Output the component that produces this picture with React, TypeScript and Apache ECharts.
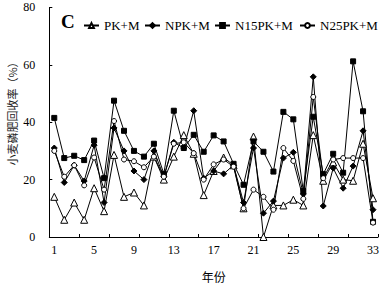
import React, { useEffect, useRef } from "react";
import * as echarts from "echarts";

const years = Array.from({ length: 33 }, (_, i) => String(i + 1));

const seriesNames = ["PK+M", "NPK+M", "N15PK+M", "N25PK+M"];

const pkM = [14, 6, 12, 6, 17, 9, 28.6, 14, 15.5, 11, 28, 20, 28, 35.5, 29, 14.6, 23, 27.7, 25, 10, 35, 0, 11, 11, 13, 11, 35.5, 19.6, 26, 20, 19.6, 32.5, 13.5];
const npkM = [31, 19, 25, 19.5, 32, 12, 38, 30, 23, 20, 30, 21, 33, 31, 44, 20.5, 23, 22, 25, 12, 31, 8.3, 12.5, 27.5, 29.5, 15, 55.8, 10.8, 24, 17, 24.7, 37, 9.5];
const n15pkM = [41.5, 27.5, 28.3, 26.8, 33.6, 20.5, 47.5, 37, 30, 28, 32.5, 22, 44, 31, 35.6, 29.7, 35.4, 33.3, 25.5, 18.2, 33.3, 29.7, 22.8, 43.6, 41, 16, 41.9, 21.9, 29, 22.4, 61.2, 43.8, 5.3];
const n25pkM = [30, 21, 25, 18, 27.7, 16.5, 40.4, 27, 26.4, 24.3, 28, 21, 32.5, 33, 29.2, 20, 25.3, 27, 24.5, 10, 16.5, 14, 9.5, 31, 26.5, 13.3, 48.8, 20.5, 27, 27.5, 27.5, 27.5, 5];

const yTicks = { min: 0, max: 80, interval: 20 };

const FONT = '"Liberation Serif", "Times New Roman", serif';

export default function App() {
  const ref = useRef<HTMLDivElement>(null);

  useEffect(() => {
    if (!ref.current) return;
    const chart = echarts.init(ref.current, null, { renderer: "svg" });

    const mk = (name: string, data: number[], symbol: string, size: number, hollow: boolean) => ({
      name,
      type: "line",
      data,
      symbol,
      symbolSize: size,
      showAllSymbol: true,
      lineStyle: { color: "#000", width: 1 },
      itemStyle: { color: hollow ? "#fff" : "#000", borderColor: "#000", borderWidth: 1 },
      emphasis: { disabled: true },
      z: 2,
    });

    const legendLefts = [83, 144, 214, 299];

    chart.setOption({
      animation: false,
      backgroundColor: "#fff",
      textStyle: { fontFamily: FONT, color: "#000" },
      grid: { left: 49.3, right: 2, top: 7.4, bottom: 42, containLabel: false },
      legend: seriesNames.map((n, i) => ({
        data: [n],
        left: legendLefts[i],
        top: 19,
        itemWidth: 15,
        itemHeight: 6,
        padding: 0,
        textStyle: { fontFamily: FONT, fontSize: 13, color: "#000" },
        selectedMode: false,
      })),
      graphic: [
        {
          type: "text",
          left: 61,
          top: 12,
          style: { text: "C", font: `bold 19px ${FONT}`, fill: "#000" },
        },
        {
          type: "text",
          x: 12,
          y: 111,
          rotation: Math.PI / 2,
          style: {
            text: "小麦磷肥回收率（%）",
            font: '11px "Noto Sans CJK SC", sans-serif',
            fill: "#222",
            align: "center",
            verticalAlign: "middle",
          },
        },
      ],
      xAxis: {
        type: "category",
        data: years,
        boundaryGap: true,
        name: "年份",
        nameLocation: "middle",
        nameGap: 33,
        nameTextStyle: { fontFamily: '"Noto Sans CJK SC", sans-serif', fontSize: 12, color: "#000" },
        axisLine: { show: true, lineStyle: { color: "#000", width: 1 } },
        axisTick: { show: true, inside: true, length: 3, interval: 2, lineStyle: { color: "#000" } },
        axisLabel: { interval: 3, margin: 7, fontSize: 12, fontFamily: FONT, color: "#000" },
        splitLine: { show: false },
      },
      yAxis: {
        type: "value",
        min: yTicks.min,
        max: yTicks.max,
        interval: yTicks.interval,
        axisLine: { show: true, lineStyle: { color: "#000", width: 1 } },
        axisTick: { show: true, inside: true, length: 3, lineStyle: { color: "#000" } },
        axisLabel: { margin: 14, fontSize: 12, fontFamily: FONT, color: "#000" },
        splitLine: { show: false },
      },
      series: [
        mk("PK+M", pkM, "triangle", 7, true),
        mk("NPK+M", npkM, "diamond", 6, false),
        mk("N15PK+M", n15pkM, "rect", 5, false),
        mk("N25PK+M", n25pkM, "circle", 5, true),
      ],
    });

    return () => chart.dispose();
  }, []);

  return (
    <div
      ref={ref}
      style={{ position: "fixed", left: 0, top: 0, width: 382, height: 287, background: "#fff" }}
    />
  );
}
